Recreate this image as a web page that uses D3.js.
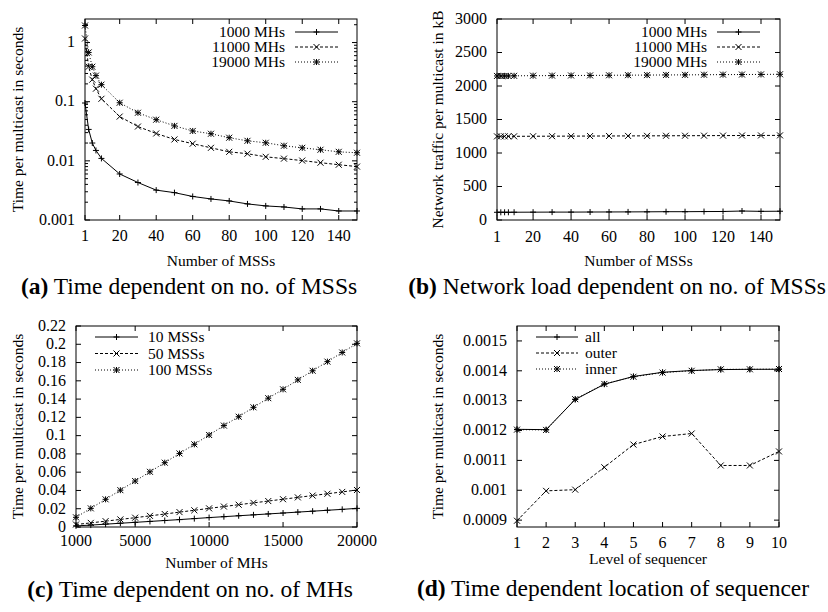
<!DOCTYPE html>
<html>
<head>
<meta charset="utf-8">
<script src="https://cdn.jsdelivr.net/npm/d3@7"></script>
<style>
  body { margin: 0; background: #fff; }
  svg { display: block; font-family: "Liberation Serif", "Times New Roman", serif; }
  .frame { fill: none; stroke: #000; stroke-width: 1; }
  .tick { stroke: #000; stroke-width: 1; }
  .series { fill: none; stroke: #000; stroke-width: 1; }
  .marker { fill: none; stroke: #000; stroke-width: 1; }
</style>
</head>
<body>
<svg id="chart" width="828" height="612"></svg>
<script>
// (a) + (b): number of MSSs
const msss = [1, 3, 5, 7, 10, 20, 30, 40, 50, 60, 70, 80, 90, 100, 110, 120, 130, 140, 150];
const time1000 = [0.095, 0.034, 0.020, 0.015, 0.011, 0.0060, 0.0043, 0.0032, 0.0029, 0.0025, 0.00227, 0.0021, 0.00187, 0.00173, 0.00166, 0.00154, 0.00154, 0.00142, 0.00142];
const time11000 = [1.17, 0.39, 0.236, 0.166, 0.112, 0.056, 0.038, 0.029, 0.023, 0.0195, 0.0166, 0.0142, 0.0132, 0.0117, 0.0109, 0.0101, 0.0093, 0.0086, 0.0080];
const time19000 = [1.94, 0.68, 0.39, 0.276, 0.194, 0.096, 0.065, 0.0496, 0.039, 0.032, 0.0287, 0.0246, 0.0218, 0.0202, 0.0180, 0.0166, 0.0154, 0.0142, 0.0137];
const traffic1000 = [115, 115, 115, 115, 116, 117, 118, 118, 119, 120, 121, 122, 124, 124, 126, 127, 134, 129, 131];
const traffic11000 = [1248, 1248, 1248, 1249, 1249, 1250, 1251, 1252, 1253, 1254, 1255, 1256, 1257, 1258, 1259, 1260, 1261, 1262, 1263];
const traffic19000 = [2150, 2150, 2150, 2150, 2152, 2154, 2155, 2157, 2158, 2160, 2162, 2163, 2165, 2166, 2168, 2170, 2171, 2173, 2175];
const mhsLabels = ["1000 MHs", "11000 MHs", "19000 MHs"];

// (c): number of MHs
const mhs = [1000, 2000, 3000, 4000, 5000, 6000, 7000, 8000, 9000, 10000, 11000, 12000, 13000, 14000, 15000, 16000, 17000, 18000, 19000, 20000];
const time10mss = [0.0012, 0.0021, 0.0031, 0.0041, 0.0051, 0.0061, 0.0071, 0.0081, 0.0092, 0.0103, 0.0113, 0.0123, 0.0133, 0.0143, 0.0153, 0.0163, 0.0173, 0.0183, 0.0193, 0.0204];
const time50mss = [0.0027, 0.0045, 0.0064, 0.0083, 0.0102, 0.0122, 0.0142, 0.0163, 0.0183, 0.0204, 0.0224, 0.0244, 0.0264, 0.0284, 0.0304, 0.0324, 0.0344, 0.0364, 0.0384, 0.0405];
const time100mss = [0.0106, 0.0204, 0.0303, 0.0403, 0.0503, 0.0604, 0.0704, 0.0805, 0.0905, 0.1007, 0.1110, 0.1207, 0.1310, 0.1410, 0.1507, 0.1610, 0.1710, 0.1810, 0.1910, 0.2010];
const mssLabels = ["10 MSSs", "50 MSSs", "100 MSSs"];

// (d): level of sequencer
const levels = [1, 2, 3, 4, 5, 6, 7, 8, 9, 10];
const seqAll = [0.001204, 0.001203, 0.001304, 0.001355, 0.001381, 0.001395, 0.001401, 0.001404, 0.001405, 0.001405];
const seqOuter = [0.000898, 0.000998, 0.001002, 0.001077, 0.001153, 0.001180, 0.001190, 0.001083, 0.001083, 0.001130];
const seqInner = [0.001203, 0.001202, 0.001305, 0.001356, 0.001380, 0.001394, 0.001400, 0.001405, 0.001405, 0.001406];
const seqLabels = ["all", "outer", "inner"];

// ticks
const msssTicks = [1, 20, 40, 60, 80, 100, 120, 140];
const timeLogTicks = [0.001, 0.01, 0.1, 1];
const trafficTicks = [0, 500, 1000, 1500, 2000, 2500, 3000];
const mhsTicks = [1000, 5000, 10000, 15000, 20000];
const time2Ticks = [0, 0.02, 0.04, 0.06, 0.08, 0.1, 0.12, 0.14, 0.16, 0.18, 0.2, 0.22];
const levelTicks = [1, 2, 3, 4, 5, 6, 7, 8, 9, 10];
const seqTicks = [0.0009, 0.001, 0.0011, 0.0012, 0.0013, 0.0014, 0.0015];

const styles = [
  { dash: null, marker: "plus" },
  { dash: "3,2", marker: "cross" },
  { dash: "1,2", marker: "star" }
];

const markerPaths = {
  plus: "M-3,0H3M0,-3V3",
  cross: "M-3,-3L3,3M-3,3L3,-3",
  star: "M-3,0H3M0,-3V3M-3,-3L3,3M-3,3L3,-3"
};

const svg = d3.select("#chart");
const TICK = 5, MINOR = 3, FS = 16, LFS = 15.5;

function drawPanel(p) {
  const g = svg.append("g");
  const x = p.x, y = p.y;
  const [x0, x1] = x.range();
  const [y0, y1] = y.range(); // y0 bottom, y1 top

  // x ticks, bottom and mirrored top
  p.xTicks.forEach(t => {
    const px = x(t);
    g.append("line").attr("class", "tick").attr("x1", px).attr("x2", px).attr("y1", y0).attr("y2", y0 - TICK);
    g.append("line").attr("class", "tick").attr("x1", px).attr("x2", px).attr("y1", y1).attr("y2", y1 + TICK);
    g.append("text").attr("x", px).attr("y", y0 + p.xLabelDy)
      .attr("text-anchor", "middle").attr("font-size", FS).text(t);
  });

  // y ticks, left and mirrored right
  p.yTicks.forEach(t => {
    const py = y(t);
    g.append("line").attr("class", "tick").attr("x1", x0).attr("x2", x0 + TICK).attr("y1", py).attr("y2", py);
    g.append("line").attr("class", "tick").attr("x1", x1).attr("x2", x1 - TICK).attr("y1", py).attr("y2", py);
    g.append("text").attr("x", x0 - 10).attr("y", py).attr("dy", "0.3em")
      .attr("text-anchor", "end").attr("font-size", FS).text(p.yFormat(t));
  });

  if (p.yMinor) {
    p.yMinor.forEach(t => {
      const py = y(t);
      g.append("line").attr("class", "tick").attr("x1", x0).attr("x2", x0 + MINOR).attr("y1", py).attr("y2", py);
      g.append("line").attr("class", "tick").attr("x1", x1).attr("x2", x1 - MINOR).attr("y1", py).attr("y2", py);
    });
  }

  // series
  p.series.forEach((s, i) => {
    const st = styles[i];
    const pts = p.xs.map((v, k) => [v, s[k]]);
    const line = d3.line().x(d => x(d[0])).y(d => y(d[1]));
    g.append("path").attr("class", "series").attr("d", line(pts))
      .attr("stroke-dasharray", st.dash);
    g.selectAll(null).data(pts).enter().append("path")
      .attr("class", "marker")
      .attr("transform", d => `translate(${x(d[0])},${y(d[1])})`)
      .attr("d", markerPaths[st.marker]);
  });

  // legend
  const L = p.legend;
  p.labels.forEach((lab, i) => {
    const st = styles[i];
    const ly = L.y + i * L.dy;
    g.append("line").attr("class", "series").attr("x1", L.lx0).attr("x2", L.lx1)
      .attr("y1", ly).attr("y2", ly).attr("stroke-dasharray", st.dash);
    g.append("path").attr("class", "marker")
      .attr("transform", `translate(${(L.lx0 + L.lx1) / 2},${ly})`)
      .attr("d", markerPaths[st.marker]);
    g.append("text").attr("x", L.tx).attr("y", ly).attr("dy", "0.33em")
      .attr("text-anchor", L.anchor).attr("font-size", LFS).text(lab);
  });

  // frame
  g.append("rect").attr("class", "frame")
    .attr("x", x0).attr("y", y1).attr("width", x1 - x0).attr("height", y0 - y1);

  // axis titles
  g.append("text").attr("x", (x0 + x1) / 2).attr("y", p.xTitleY)
    .attr("text-anchor", "middle").attr("font-size", 15.5).text(p.xTitle);
  g.append("text")
    .attr("transform", `translate(${p.yTitleX},${(y0 + y1) / 2}) rotate(-90)`)
    .attr("text-anchor", "middle").attr("font-size", 15.5).text(p.yTitle);

  // caption
  const cap = g.append("text").attr("x", p.capX).attr("y", p.capY)
    .attr("text-anchor", "middle").attr("font-size", 23.5);
  cap.append("tspan").attr("font-weight", "bold").text(p.capTag);
  cap.append("tspan").text(" " + p.caption);
}

const logMinor = [];
[0.001, 0.01, 0.1, 1].forEach(d => { for (let k = 2; k <= 9; k++) if (d * k <= 2.5) logMinor.push(d * k); });

drawPanel({
  x: d3.scaleLinear().domain([1, 150]).range([85, 357]),
  y: d3.scaleLog().domain([0.001, 2.5]).range([220, 19]),
  xTicks: msssTicks, yTicks: timeLogTicks, yMinor: logMinor,
  yFormat: d => String(d),
  xLabelDy: 21,
  xs: msss, series: [time1000, time11000, time19000], labels: mhsLabels,
  legend: { y: 32, dy: 15, lx0: 295, lx1: 338, tx: 285, anchor: "end" },
  xTitle: "Number of MSSs", xTitleY: 266,
  yTitle: "Time per multicast in seconds", yTitleX: 23,
  capTag: "(a)", caption: "Time dependent on no. of MSSs", capX: 189, capY: 294
});

drawPanel({
  x: d3.scaleLinear().domain([1, 150]).range([497, 780]),
  y: d3.scaleLinear().domain([0, 3000]).range([220, 19]),
  xTicks: msssTicks, yTicks: trafficTicks,
  yFormat: d => String(d),
  xLabelDy: 22,
  xs: msss, series: [traffic1000, traffic11000, traffic19000], labels: mhsLabels,
  legend: { y: 32, dy: 15, lx0: 717, lx1: 760, tx: 707, anchor: "end" },
  xTitle: "Number of MSSs", xTitleY: 266,
  yTitle: "Network traffic per multicast in kB", yTitleX: 443,
  capTag: "(b)", caption: "Network load dependent on no. of MSSs", capX: 617, capY: 294
});

drawPanel({
  x: d3.scaleLinear().domain([1000, 20000]).range([76, 357]),
  y: d3.scaleLinear().domain([0, 0.22]).range([527, 326]),
  xTicks: mhsTicks, yTicks: time2Ticks,
  yFormat: d => String(d),
  xLabelDy: 19,
  xs: mhs, series: [time10mss, time50mss, time100mss], labels: mssLabels,
  legend: { y: 337, dy: 16.5, lx0: 95, lx1: 138, tx: 148, anchor: "start" },
  xTitle: "Number of MHs", xTitleY: 568,
  yTitle: "Time per multicast in seconds", yTitleX: 23,
  capTag: "(c)", caption: "Time dependent on no. of MHs", capX: 190, capY: 597
});

drawPanel({
  x: d3.scaleLinear().domain([1, 10]).range([517, 779]),
  y: d3.scaleLinear().domain([0.000877, 0.00155]).range([527, 326]),
  xTicks: levelTicks, yTicks: seqTicks,
  yFormat: d => String(d),
  xLabelDy: 21,
  xs: levels, series: [seqAll, seqOuter, seqInner], labels: seqLabels,
  legend: { y: 337, dy: 16, lx0: 536, lx1: 578, tx: 585, anchor: "start" },
  xTitle: "Level of sequencer", xTitleY: 564,
  yTitle: "Time per multicast in seconds", yTitleX: 443,
  capTag: "(d)", caption: "Time dependent location of sequencer", capX: 613, capY: 596
});
</script>
</body>
</html>
